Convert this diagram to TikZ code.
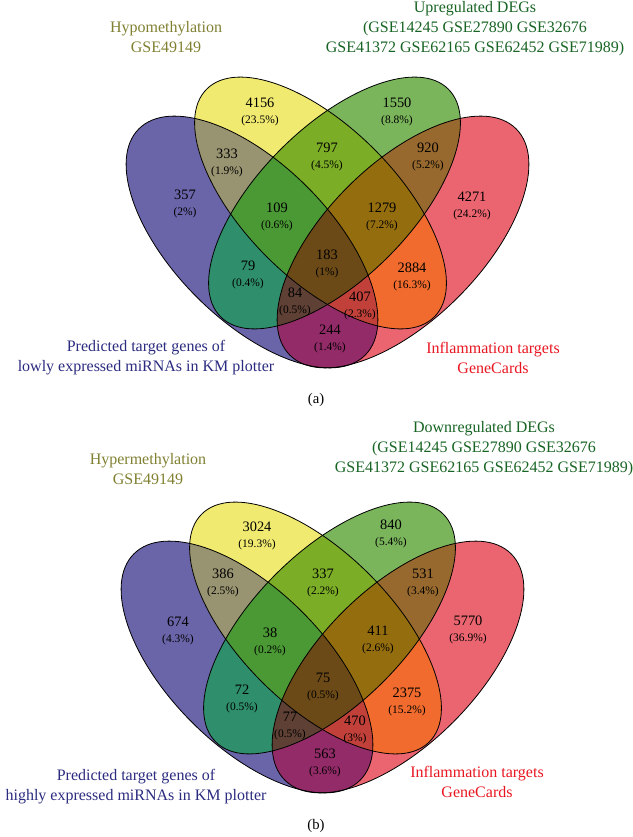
\documentclass[tikz,border=0pt]{standalone}
\usepackage{fontspec}
\setmainfont{Liberation Serif}
\usetikzlibrary{positioning}

% region colours
\definecolor{cA}{RGB}{106,100,169}
\definecolor{cB}{RGB}{241,234,113}
\definecolor{cC}{RGB}{122,181,92}
\definecolor{cD}{RGB}{235,101,112}
\definecolor{cAB}{RGB}{152,147,112}
\definecolor{cAC}{RGB}{47,142,107}
\definecolor{cAD}{RGB}{148,43,105}
\definecolor{cBC}{RGB}{123,173,38}
\definecolor{cBD}{RGB}{240,107,45}
\definecolor{cCD}{RGB}{152,105,46}
\definecolor{cABC}{RGB}{74,153,52}
\definecolor{cABD}{RGB}{193,65,58}
\definecolor{cACD}{RGB}{94,64,53}
\definecolor{cBCD}{RGB}{148,109,15}
\definecolor{cABCD}{RGB}{108,74,23}
% set label colours
\definecolor{labA}{RGB}{43,43,128}
\definecolor{labB}{RGB}{128,128,50}
\definecolor{labC}{RGB}{24,100,36}
\definecolor{labD}{RGB}{232,22,32}

% the four ellipses (A blue, B yellow, C green, D red)
\newcommand{\ellA}{[shift={(252,-242)},rotate=-45] (0,0) ellipse (120pt and 58.5pt)}
\newcommand{\ellB}{[shift={(320.5,-203)},rotate=-45] (0,0) ellipse (120.75pt and 57pt)}
\newcommand{\ellC}{[shift={(334.5,-203)},rotate=45] (0,0) ellipse (120.75pt and 57pt)}
\newcommand{\ellD}{[shift={(403,-242)},rotate=45] (0,0) ellipse (120pt and 58.5pt)}

\newcommand{\vennfills}{%
  \fill[cA]\ellA; \fill[cB]\ellB; \fill[cC]\ellC; \fill[cD]\ellD;
  \begin{scope}\clip\ellA; \fill[cAB]\ellB; \end{scope}
  \begin{scope}\clip\ellA; \fill[cAC]\ellC; \end{scope}
  \begin{scope}\clip\ellA; \fill[cAD]\ellD; \end{scope}
  \begin{scope}\clip\ellB; \fill[cBC]\ellC; \end{scope}
  \begin{scope}\clip\ellB; \fill[cBD]\ellD; \end{scope}
  \begin{scope}\clip\ellC; \fill[cCD]\ellD; \end{scope}
  \begin{scope}\clip\ellA; \clip\ellB; \fill[cABC]\ellC; \end{scope}
  \begin{scope}\clip\ellA; \clip\ellB; \fill[cABD]\ellD; \end{scope}
  \begin{scope}\clip\ellA; \clip\ellC; \fill[cACD]\ellD; \end{scope}
  \begin{scope}\clip\ellB; \clip\ellC; \fill[cBCD]\ellD; \end{scope}
  \begin{scope}\clip\ellA; \clip\ellB; \clip\ellC; \fill[cABCD]\ellD; \end{scope}
  \draw[vennline]\ellA; \draw[vennline]\ellB; \draw[vennline]\ellC; \draw[vennline]\ellD;
}

% count with its percentage below
\newcommand{\venncell}[5]{%
  \node[cnt] (#1) at (#2,-#3) {#4};
  \node[pct, below=5.5pt of #1] (#1p) {(#5)};
}

\begin{document}
\begin{tikzpicture}[
    x=0.75pt, y=0.75pt,
    cnt/.style={font=\fontsize{10.8pt}{12pt}\selectfont, inner sep=0pt, text height=7pt, text depth=0pt},
    pct/.style={font=\fontsize{8.6pt}{10pt}\selectfont, inner sep=0pt, text height=6pt, text depth=2pt},
    setlabel/.style={font=\fontsize{12pt}{15pt}\selectfont, align=center, inner sep=0pt},
    sublabel/.style={font=\fontsize{11pt}{13pt}\selectfont, inner sep=0pt},
    vennline/.style={draw=black, line width=0.6pt},
  ]
  \useasboundingbox (0,0) rectangle (632,-837);

  % (a) hypomethylation / upregulated
  \vennfills
  \venncell{a4156}{260}{103}{4156}{23.5\%}
  \venncell{a1550}{397}{103}{1550}{8.8\%}
  \venncell{a333}{227}{154}{333}{1.9\%}
  \venncell{a797}{327}{148}{797}{4.5\%}
  \venncell{a920}{428}{148}{920}{5.2\%}
  \venncell{a357}{185}{195}{357}{2\%}
  \venncell{a4271}{472}{197}{4271}{24.2\%}
  \venncell{a109}{277}{208}{109}{0.6\%}
  \venncell{a1279}{382}{208}{1279}{7.2\%}
  \venncell{a183}{327}{255}{183}{1\%}
  \venncell{a79}{248}{266}{79}{0.4\%}
  \venncell{a2884}{412}{268}{2884}{16.3\%}
  \venncell{a84}{295}{293}{84}{0.5\%}
  \venncell{a407}{360}{297}{407}{2.3\%}
  \venncell{a244}{330}{330}{244}{1.4\%}
  \node[setlabel, text=labB] (aB) at (166,-37) {Hypomethylation\\GSE49149};
  \node[setlabel, text=labC] (aC) at (475,-29) {Upregulated DEGs\\(GSE14245 GSE27890 GSE32676\\GSE41372 GSE62165 GSE62452 GSE71989)};
  \node[setlabel, text=labA] (aA) at (146,-358) {Predicted target genes of\\lowly expressed miRNAs in KM plotter};
  \node[setlabel, text=labD] (aD) at (493,-358) {Inflammation targets\\GeneCards};
  \node[sublabel] (capa) at (316,-400) {(a)};

  % (b) hypermethylation / downregulated
  \begin{scope}[shift={(-5,-425)}]
    \vennfills
  \end{scope}
  \venncell{b3024}{257}{527}{3024}{19.3\%}
  \venncell{b840}{391}{525}{840}{5.4\%}
  \venncell{b386}{223}{574}{386}{2.5\%}
  \venncell{b337}{323}{574}{337}{2.2\%}
  \venncell{b531}{423}{574}{531}{3.4\%}
  \venncell{b674}{178}{622}{674}{4.3\%}
  \venncell{b5770}{468}{621}{5770}{36.9\%}
  \venncell{b38}{270}{633}{38}{0.2\%}
  \venncell{b411}{378}{631}{411}{2.6\%}
  \venncell{b75}{323}{678}{75}{0.5\%}
  \venncell{b72}{242}{690}{72}{0.5\%}
  \venncell{b2375}{407}{693}{2375}{15.2\%}
  \venncell{b77}{290}{717}{77}{0.5\%}
  \venncell{b470}{355}{721}{470}{3\%}
  \venncell{b563}{325}{754}{563}{3.6\%}
  \node[setlabel, text=labB] (bB) at (148,-469) {Hypermethylation\\GSE49149};
  \node[setlabel, text=labC] (bC) at (484,-449) {Downregulated DEGs\\(GSE14245 GSE27890 GSE32676\\GSE41372 GSE62165 GSE62452 GSE71989)};
  \node[setlabel, text=labA] (bA) at (136,-787) {Predicted target genes of\\highly expressed miRNAs in KM plotter};
  \node[setlabel, text=labD] (bD) at (477,-782) {Inflammation targets\\GeneCards};
  \node[sublabel] (capb) at (316,-826) {(b)};
\end{tikzpicture}
\end{document}
